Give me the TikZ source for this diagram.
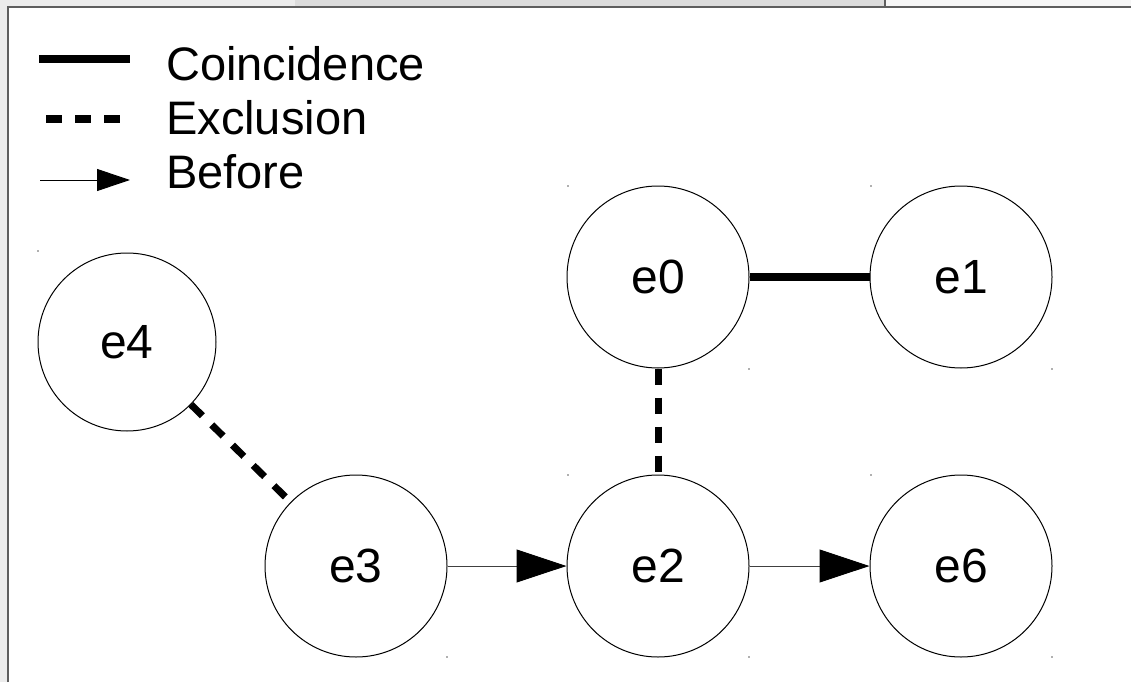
\documentclass[tikz,border=0pt]{standalone}
\usepackage{fontspec}
\setmainfont{Liberation Sans}
\usetikzlibrary{arrows.meta}
\definecolor{framegray}{HTML}{5E5E5E}
\definecolor{tabgray}{HTML}{DCDCDC}
\definecolor{leftgray}{HTML}{ECECEC}
\definecolor{rightgray}{HTML}{F6F6F6}
\definecolor{dotgray}{HTML}{B0B0B0}
\tikzset{
  event/.style={circle, draw, line width=1pt, inner sep=0pt, minimum size=182pt,
    font=\fontsize{48}{56}\selectfont},
  coinc/.style={line width=8pt},
  excl/.style={line width=7pt, dash pattern=on 16pt off 13pt},
  before/.style={line width=1pt, draw=black!75, -{Triangle[length=50pt,width=33pt,fill=black,color=black]}},
  legtext/.style={anchor=base west, inner sep=0pt, font=\fontsize{47}{56}\selectfont},
  bbdot/.style={fill=dotgray, minimum size=2pt, inner sep=0pt, draw=none}
}
\begin{document}
\begin{tikzpicture}[x=1pt,y=-1pt]
\useasboundingbox (0,0) rectangle (1131,682);
% window background
\fill[leftgray] (0,0) rectangle (1131,682);
\fill[white] (8,7) rectangle (1131,682);
\fill[tabgray] (295,0) rectangle (885,6);
\fill[rightgray] (885,0) rectangle (1131,6);
\draw[framegray, line width=2pt] (8,682) -- (8,7) -- (1131,7);
\draw[framegray, line width=2pt] (885,0) -- (885,7);
% legend
\coordinate (l1a) at (39,59); \coordinate (l1b) at (130,59);
\coordinate (l2a) at (46,119); \coordinate (l2b) at (122,119);
\coordinate (l3a) at (40,180); \coordinate (l3b) at (130,180);
\draw[coinc] (l1a) -- (l1b);
\draw[excl] (l2a) -- (l2b);
\draw[line width=1pt, -{Triangle[length=33pt,width=22pt]}] (l3a) -- (l3b);
\node[legtext] (t1) at (166,81) {Coincidence};
\node[legtext] (t2) at (166,135) {Exclusion};
\node[legtext] (t3) at (166,188) {Before};
% events
\node[event] (e0) at (658,277) {e0};
\node[event] (e1) at (961,277) {e1};
\node[event, minimum size=178pt] (e4) at (127,342) {e4};
\node[event] (e3) at (356,566) {e3};
\node[event] (e2) at (658,566) {e2};
\node[event] (e6) at (961,566) {e6};
% bounding box corner dots
\foreach \p in {(568,186),(871,186),(749,369),(1052,369),(38,251),(568,475),(871,475),(749,657),(1052,657),(447,657)}
  \node[bbdot] at \p {};
% relations
\draw[coinc] (e0) -- (e1);
\draw[excl] (e0) -- (e2);
\draw[excl] (e4) -- (e3);
\draw[before] (e3) -- (e2);
\draw[before] (e2) -- (e6);
\end{tikzpicture}
\end{document}
